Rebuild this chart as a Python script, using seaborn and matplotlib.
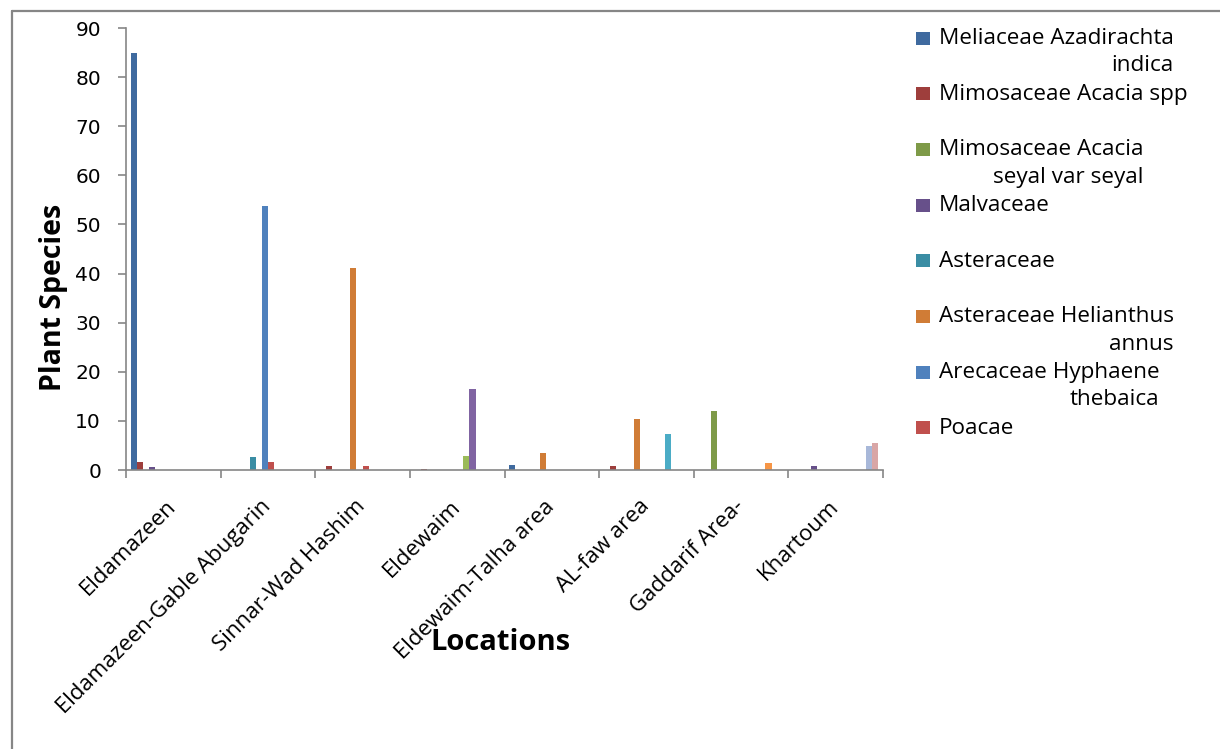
import numpy as np
import pandas as pd
import seaborn as sns
import matplotlib
matplotlib.use("Agg")
import matplotlib.pyplot as plt
from matplotlib.patches import Rectangle
from matplotlib.lines import Line2D
from matplotlib.legend_handler import HandlerPatch
from matplotlib.font_manager import FontProperties

# ---- data -------------------------------------------------------------
locations = ["Eldamazeen", "Eldamazeen-Gable Abugarin", "Sinnar-Wad Hashim",
             "Eldewaim", "Eldewaim-Talha area", "AL-faw area",
             "Gaddarif Area-", "Khartoum"]

series_names = ["Meliaceae Azadirachta indica", "Mimosaceae Acacia spp",
                "Mimosaceae Acacia seyal var seyal", "Malvaceae", "Asteraceae",
                "Asteraceae Helianthus annus", "Arecaceae Hyphaene thebaica",
                "Poacae", "Series 9", "Series 10", "Series 11", "Series 12",
                "Series 13", "Series 14"]

meliaceae = [85.0, 0, 0, 0, 1.1, 0, 0, 0]
acacia_spp = [1.7, 0, 0.9, 0.3, 0, 0.8, 0, 0]
acacia_seyal = [0, 0, 0, 0, 0, 0, 12.0, 0]
malvaceae = [0.6, 0, 0, 0, 0, 0, 0, 0.8]
asteraceae = [0, 2.7, 0, 0, 0, 0, 0, 0]
helianthus = [0, 0, 41.2, 0, 3.5, 10.4, 0, 0]
hyphaene = [0, 53.8, 0, 0, 0, 0, 0, 0]
poacae = [0, 1.7, 0.9, 0, 0, 0, 0, 0]
series9 = [0, 0, 0, 2.9, 0, 0, 0, 0]
series10 = [0, 0, 0, 16.4, 0, 0, 0, 0]
series11 = [0, 0, 0, 0, 0, 7.3, 0, 0]
series12 = [0, 0, 0, 0, 0, 0, 1.4, 0]
series13 = [0, 0, 0, 0, 0, 0, 0, 4.9]
series14 = [0, 0, 0, 0, 0, 0, 0, 5.5]

all_series = [meliaceae, acacia_spp, acacia_seyal, malvaceae, asteraceae,
              helianthus, hyphaene, poacae, series9, series10, series11,
              series12, series13, series14]

legend_labels = ["Meliaceae Azadirachta\nindica", "Mimosaceae Acacia spp\n ",
                 "Mimosaceae Acacia\nseyal var seyal", "Malvaceae\n ",
                 "Asteraceae\n ", "Asteraceae Helianthus\nannus",
                 "Arecaceae Hyphaene\nthebaica", "Poacae\n "]

colors = ["#3F6A9F", "#9E3E3C", "#7E9A48", "#67508A", "#3A8DA4", "#D07C36",
          "#4F81BD", "#C0504D", "#9BBB59", "#8064A2", "#4BACC6", "#F79646",
          "#A8B8D9", "#D9A6A6"]

rows = []
for name, vals in zip(series_names, all_series):
    for loc, v in zip(locations, vals):
        rows.append({"Location": loc, "Series": name, "Count": v})
df = pd.DataFrame(rows)

# ---- figure -----------------------------------------------------------
sns.set_theme(style="white")
plt.rcParams["font.family"] = ["Open Sans", "DejaVu Sans"]
plt.rcParams["text.color"] = "black"
plt.rcParams["xtick.color"] = "black"
plt.rcParams["ytick.color"] = "black"

W, H = 1220, 749
fig = plt.figure(figsize=(W / 100, H / 100), dpi=100)
ax = fig.add_axes([126 / W, 1 - 470 / H, (883 - 126) / W, (470 - 28) / H])

n = len(series_names)
sns.barplot(data=df, x="Location", y="Count", hue="Series",
            order=locations, hue_order=series_names, palette=colors,
            width=n / (n + 1.5), gap=0, saturation=1, linewidth=0,
            errorbar=None, legend=False, ax=ax)

ax.set_ylim(0, 90)
ax.set_xlim(-0.5, len(locations) - 0.5)
ax.set_yticks(np.arange(0, 91, 10))
ax.set_yticklabels([str(v) for v in range(0, 91, 10)],
                   fontfamily="DejaVu Sans", fontsize=14.5, color="black")

# category boundaries carry the tick marks, centres carry the names
ax.set_xticks(np.arange(-0.5, len(locations), 1.0))
ax.set_xticklabels([])
ax.set_xticks(np.arange(len(locations)), minor=True)
ax.set_xticklabels(locations, minor=True, rotation=45, ha="right",
                   va="center", rotation_mode="anchor", fontsize=16,
                   color="black")

spine_c = "#868686"
for side in ["top", "right"]:
    ax.spines[side].set_visible(False)
for side in ["left", "bottom"]:
    ax.spines[side].set_color(spine_c)
    ax.spines[side].set_linewidth(1.2)
ax.tick_params(axis="x", which="major", length=6, width=1.2, color=spine_c,
               direction="out", bottom=True)
ax.tick_params(axis="x", which="minor", length=0, pad=24, bottom=True)
ax.tick_params(axis="y", length=6, width=1.2, color=spine_c, direction="out",
               left=True, pad=12)
ax.grid(False)

ax.set_xlabel("")
ax.set_ylabel("")
fig.text(500 / W, 1 - 642 / H, "Locations", fontsize=21, fontweight="bold",
         ha="center", va="center", color="black")
fig.text(54 / W, 1 - 297 / H, "Plant Species", fontsize=20.5,
         fontweight="bold", rotation=90, ha="center", va="center",
         color="black")


# ---- legend -----------------------------------------------------------
class FirstLineHandler(HandlerPatch):
    """Square swatch aligned with the first line of a two-line label."""

    def create_artists(self, legend, orig_handle, xdescent, ydescent,
                       width, height, fontsize, trans):
        sw_h = 9.4
        shift = 10.1
        p = Rectangle((-xdescent, -ydescent + shift + (height - sw_h) / 2),
                      width, sw_h, facecolor=orig_handle.get_facecolor(),
                      edgecolor="none", transform=trans)
        return [p]


handles = [Rectangle((0, 0), 1, 1, facecolor=c) for c in colors[:8]]
leg = fig.legend(handles, legend_labels, loc="upper left",
                 bbox_to_anchor=(916 / W, 1 - 28 / H),
                 frameon=False, prop=FontProperties(family="Open Sans", size=16.2),
                 handlelength=0.62, handleheight=0.7, handletextpad=0.4,
                 labelspacing=0.33, borderpad=0, borderaxespad=0,
                 handler_map={Rectangle: FirstLineHandler()})
for t in leg.get_texts():
    t.set_multialignment("right")
    t.set_linespacing(1.39)
    t.set_color("black")

# outer frame (top and left edges)
fig.add_artist(Line2D([12 / W, 1], [1 - 11 / H, 1 - 11 / H],
                      transform=fig.transFigure, color=spine_c, lw=1.6))
fig.add_artist(Line2D([12 / W, 12 / W], [0, 1 - 11 / H],
                      transform=fig.transFigure, color=spine_c, lw=1.6))

fig.savefig("out.png", dpi=100)
